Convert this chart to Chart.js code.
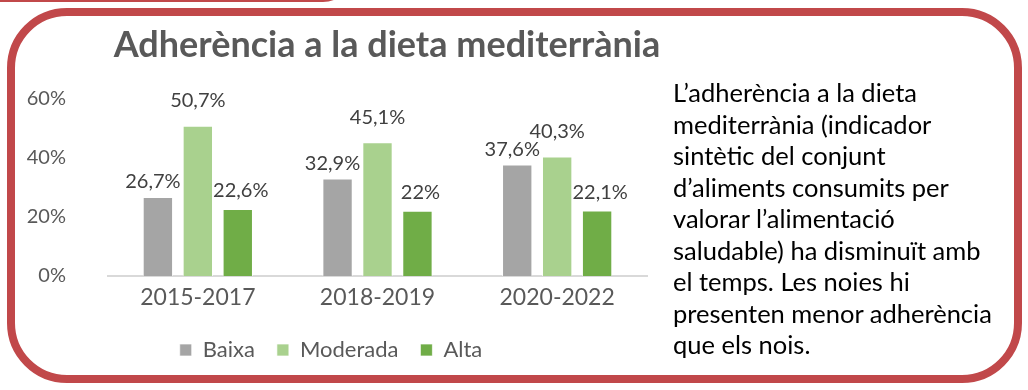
<!DOCTYPE html>
<html><head><meta charset="utf-8">
<script src="https://cdn.jsdelivr.net/npm/chart.js@4.4.0/dist/chart.umd.min.js"></script>
<style>
html,body{margin:0;padding:0;background:#fff;width:1028px;height:390px;overflow:hidden;position:relative;font-family:Lato,sans-serif}
#topline{position:absolute;left:-20px;top:-60px;width:373px;height:62px;box-sizing:border-box;border-bottom:2px solid #c1484a;border-right:2px solid #c1484a;border-bottom-right-radius:30px}
#frame{position:absolute;left:7px;top:8px;width:1015px;height:375px;box-sizing:border-box;border:8px solid #c1484a;border-radius:60px}
#wrap{position:absolute;left:10px;top:15px;width:750px;height:360px}
#note{position:absolute;left:673px;top:77px;font-family:Lato,sans-serif;font-size:25.5px;line-height:31.5px;color:#000;white-space:nowrap}
</style></head>
<body>
<div id="topline"></div>
<div id="frame"></div>
<div id="wrap"><canvas id="c"></canvas></div>
<div id="note">L’adherència a la dieta<br>mediterrània (indicador<br>sintètic del conjunt<br>d’aliments consumits per<br>valorar l’alimentació<br>saludable) ha disminuït amb<br>el temps. Les noies hi<br>presenten menor adherència<br>que els nois.</div>
<script>
const categories = ['2015-2017', '2018-2019', '2020-2022'];
const seriesNames = ['Baixa', 'Moderada', 'Alta'];
const baixa = [26.7, 32.9, 37.6];
const moderada = [50.7, 45.1, 40.3];
const alta = [22.6, 22, 22.1];
const yTickValues = [0, 20, 40, 60];
const chartTitle = 'Adherència a la dieta mediterrània';

const seriesStyles = [
  { color: '#a5a5a5', labelDx: -5, labelDy: 15 },
  { color: '#a9d18e', labelDx: 0, labelDy: 25 },
  { color: '#70ad47', labelDx: 3, labelDy: 18 }
];

const valueLabels = {
  id: 'valueLabels',
  afterDatasetsDraw(chart) {
    const ctx = chart.ctx;
    ctx.save();
    ctx.font = '20px Lato';
    ctx.fillStyle = '#404040';
    ctx.textAlign = 'center';
    ctx.textBaseline = 'middle';
    chart.data.datasets.forEach((ds, i) => {
      const meta = chart.getDatasetMeta(i);
      const st = seriesStyles[i];
      meta.data.forEach((bar, j) => {
        ctx.fillText(String(ds.data[j]).replace('.', ',') + '%', bar.x + st.labelDx, bar.y - st.labelDy);
      });
    });
    ctx.restore();
  }
};

const shiftTitle = {
  id: 'shiftTitle',
  afterLayout(chart) {
    const t = chart.titleBlock;
    if (t) { t.left += 56; t.right += 56; }
  }
};

new Chart(document.getElementById('c'), {
  type: 'bar',
  data: {
    labels: categories,
    datasets: [baixa, moderada, alta].map((d, i) => ({
      label: seriesNames[i],
      data: d,
      backgroundColor: seriesStyles[i].color,
      borderColor: 'rgba(255,255,255,0.7)',
      borderWidth: 1,
      categoryPercentage: 0.667,
      barPercentage: 0.76
    }))
  },
  options: {
    responsive: true,
    maintainAspectRatio: false,
    animation: false,
    devicePixelRatio: 1,
    layout: { padding: { left: 5, right: 113, top: 0, bottom: 4 } },
    plugins: {
      title: {
        display: true,
        text: chartTitle,
        color: '#595959',
        font: { family: 'Lato', size: 36, weight: 'bold' },
        padding: { top: 9, bottom: 31 }
      },
      legend: {
        position: 'bottom',
        labels: {
          boxWidth: 12, boxHeight: 12, padding: 22,
          color: '#595959',
          font: { family: 'Lato', size: 22 }
        }
      },
      tooltip: { enabled: false }
    },
    scales: {
      x: {
        grid: { display: false, drawTicks: false },
        border: { display: true, color: '#d9d9d9', width: 2 },
        ticks: { color: '#595959', font: { family: 'Lato', size: 23 }, padding: 8 },
        afterFit(s) { s.height = 41; }
      },
      y: {
        min: 0, max: 60,
        grid: { display: false, drawTicks: false },
        border: { display: false },
        afterBuildTicks(s) { s.ticks = yTickValues.map(v => ({ value: v })); },
        ticks: { color: '#595959', font: { family: 'Lato', size: 20 }, padding: 42, callback: v => v + '%' },
        afterFit(s) { s.width = 93; }
      }
    }
  },
  plugins: [valueLabels, shiftTitle]
});
</script>
</body></html>
